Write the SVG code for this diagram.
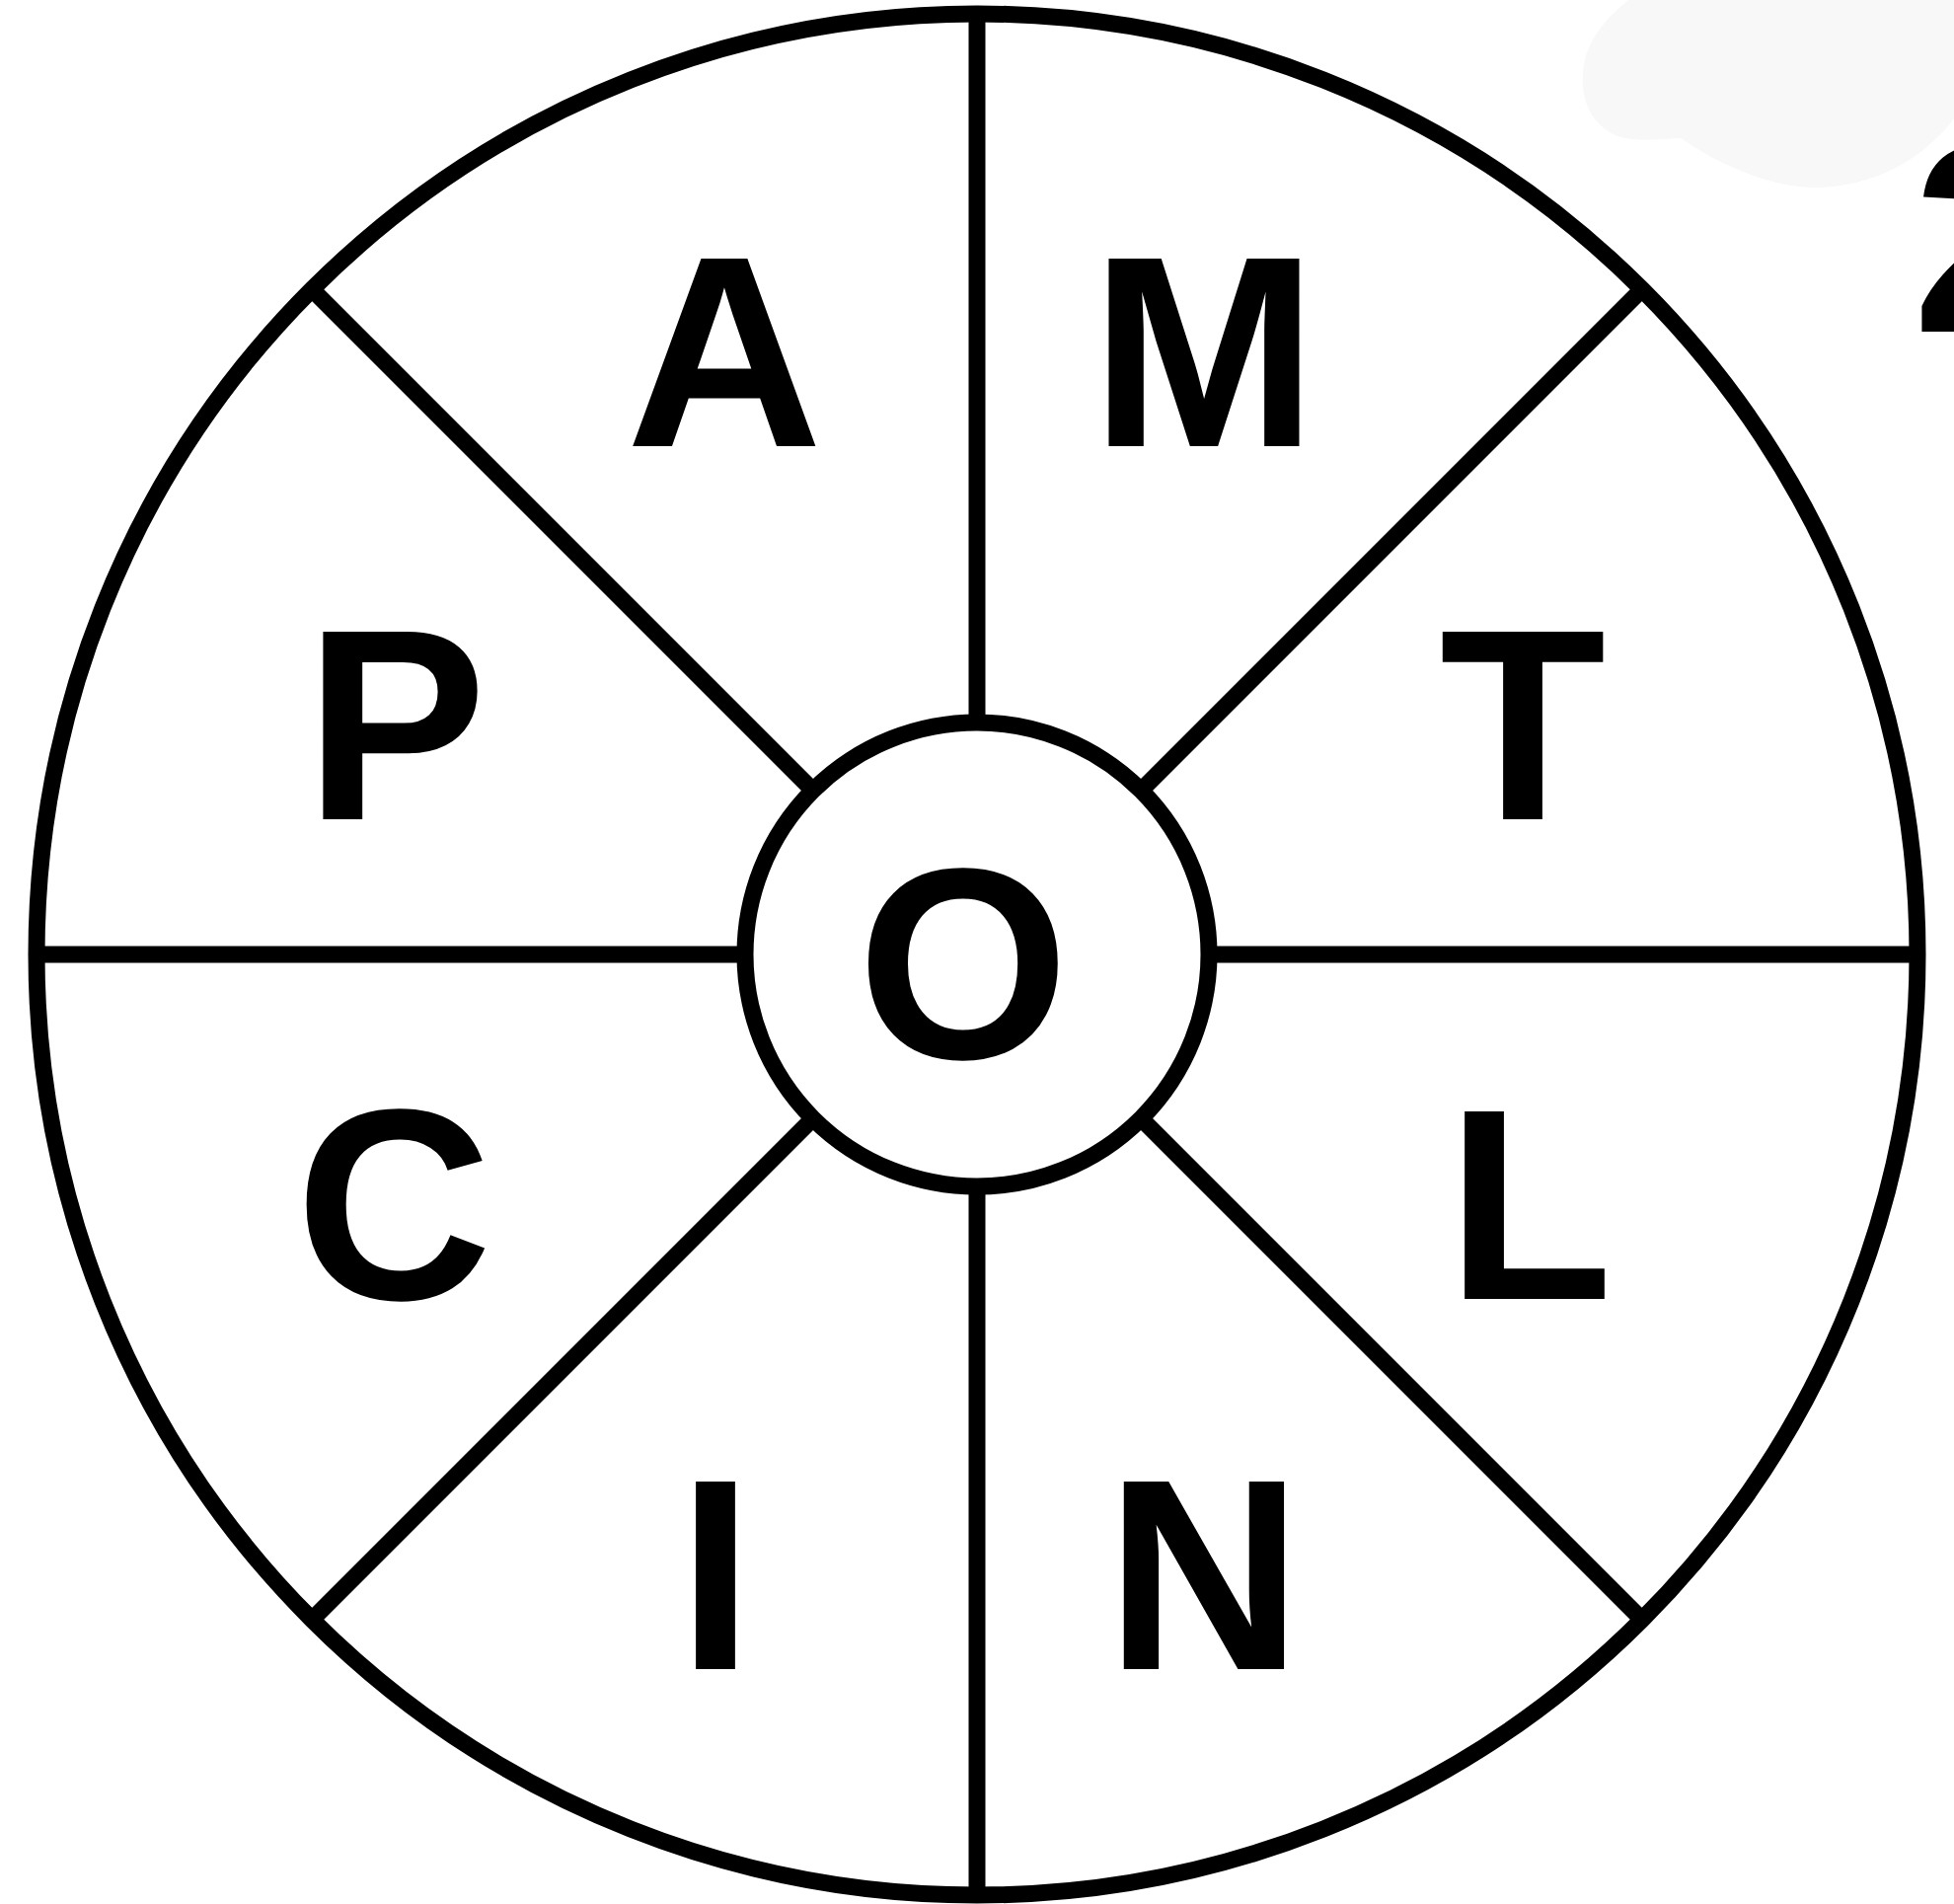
<svg xmlns="http://www.w3.org/2000/svg" width="1980" height="1929" viewBox="0 0 1980 1929">
<style>
.ln{stroke:#000;stroke-width:17;fill:none}
.lt{font-family:"Liberation Sans",Arial,sans-serif;font-weight:bold;font-size:276px;fill:#000;text-anchor:middle}
</style>
<rect x="0" y="0" width="1980" height="1929" fill="#fff"/>
<path id="blob" d="M1650,0 C1640,8 1614,30 1606,60 C1598,95 1610,125 1637,137 C1655,145 1690,140 1703,140 C1730,158 1780,188 1837,190 C1900,190 1950,160 1980,120 L1980,0 Z" fill="#f8f8f8"/>
<text x="1938" y="336" style="font-family:'Liberation Sans',Arial,sans-serif;font-weight:bold;font-size:272px;fill:#000">2</text>
<g id="connectors">
<line class="ln" x1="990" y1="15" x2="990" y2="735"/>
<line class="ln" x1="990" y1="1199" x2="990" y2="1919"/>
<line class="ln" x1="36" y1="967" x2="758" y2="967"/>
<line class="ln" x1="1222" y1="967" x2="1943" y2="967"/>
<line class="ln" x1="316" y1="293" x2="826" y2="803"/>
<line class="ln" x1="1664" y1="293" x2="1154" y2="803"/>
<line class="ln" x1="316" y1="1641" x2="826" y2="1131"/>
<line class="ln" x1="1664" y1="1641" x2="1154" y2="1131"/>
</g>
<g id="outer"><circle class="ln" cx="990" cy="967" r="953"/></g>
<g id="center"><circle class="ln" cx="990" cy="967" r="235" fill="#fff"/><text class="lt" x="976" y="1072">O</text></g>
<g id="seg-A"><text class="lt" x="734" y="452">A</text></g>
<g id="seg-M"><text class="lt" x="1220" y="452">M</text></g>
<g id="seg-P"><text class="lt" x="401" y="830">P</text></g>
<g id="seg-T"><text class="lt" x="1543" y="830">T</text></g>
<g id="seg-C"><text class="lt" x="399" y="1316">C</text></g>
<g id="seg-L"><text class="lt" x="1550" y="1316">L</text></g>
<g id="seg-I"><text class="lt" x="725" y="1691">I</text></g>
<g id="seg-N"><text class="lt" x="1220" y="1691">N</text></g>
</svg>
